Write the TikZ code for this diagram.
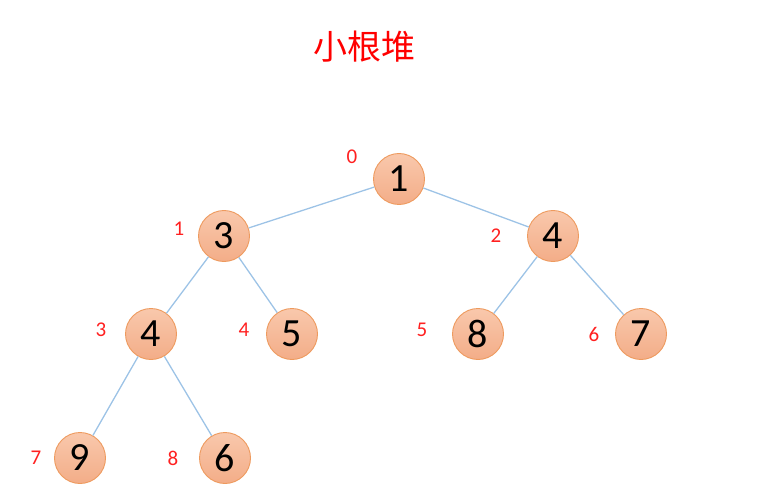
\documentclass[tikz,border=0pt]{standalone}
\usepackage{fontspec}
\setmainfont{Carlito}
\newfontfamily\cjk{Noto Sans CJK SC}
\usepackage{tikz}
\definecolor{heaptop}{HTML}{F9C8AC}
\definecolor{heapbot}{HTML}{F3AD88}
\definecolor{heapedge}{HTML}{EE9A5E}
\definecolor{linkblue}{HTML}{9DC3E6}
\definecolor{idxred}{HTML}{FF2020}
\tikzset{
  heapnode/.style = {circle, draw=heapedge, top color=heaptop, bottom color=heapbot,
                     line width=0.9pt, minimum size=51pt, inner sep=0pt,
                     font=\fontsize{40}{40}\selectfont},
  link/.style     = {draw=linkblue, line width=1.3pt},
  idx/.style      = {text=idxred, font=\fontsize{21}{21}\selectfont},
}

\begin{document}
\begin{tikzpicture}[x=1pt, y=-1pt]
  \useasboundingbox (0,0) rectangle (760,489);
  \node[text=red, font=\cjk\fontsize{34}{34}\selectfont] (title) at (364,47) {小根堆};

  % heap array, index/x/y/value
  \foreach \i/\x/\y/\v in {0/399/179/1, 1/224/236/3, 2/553/236/4, 3/151/334/4, 4/292/334/5,
                            5/478/334/8, 6/641/334/7, 7/80/458/9, 8/225/458/6} {
    \node[heapnode] (n\i) at (\x,\y) {\v};
  }

  % parent/child links
  \foreach \p/\c in {0/1, 0/2, 1/3, 1/4, 2/5, 2/6, 3/7, 3/8}
    \draw[link] (n\p) -- (n\c);

  % array indices
  \foreach \i/\x/\y in {0/352/157, 1/179/229, 2/496/236, 3/101/330, 4/244/330,
                        5/422/330, 6/594/334, 7/36/458, 8/173/458}
    \node[idx] (k\i) at (\x,\y) {\i};
\end{tikzpicture}
\end{document}
